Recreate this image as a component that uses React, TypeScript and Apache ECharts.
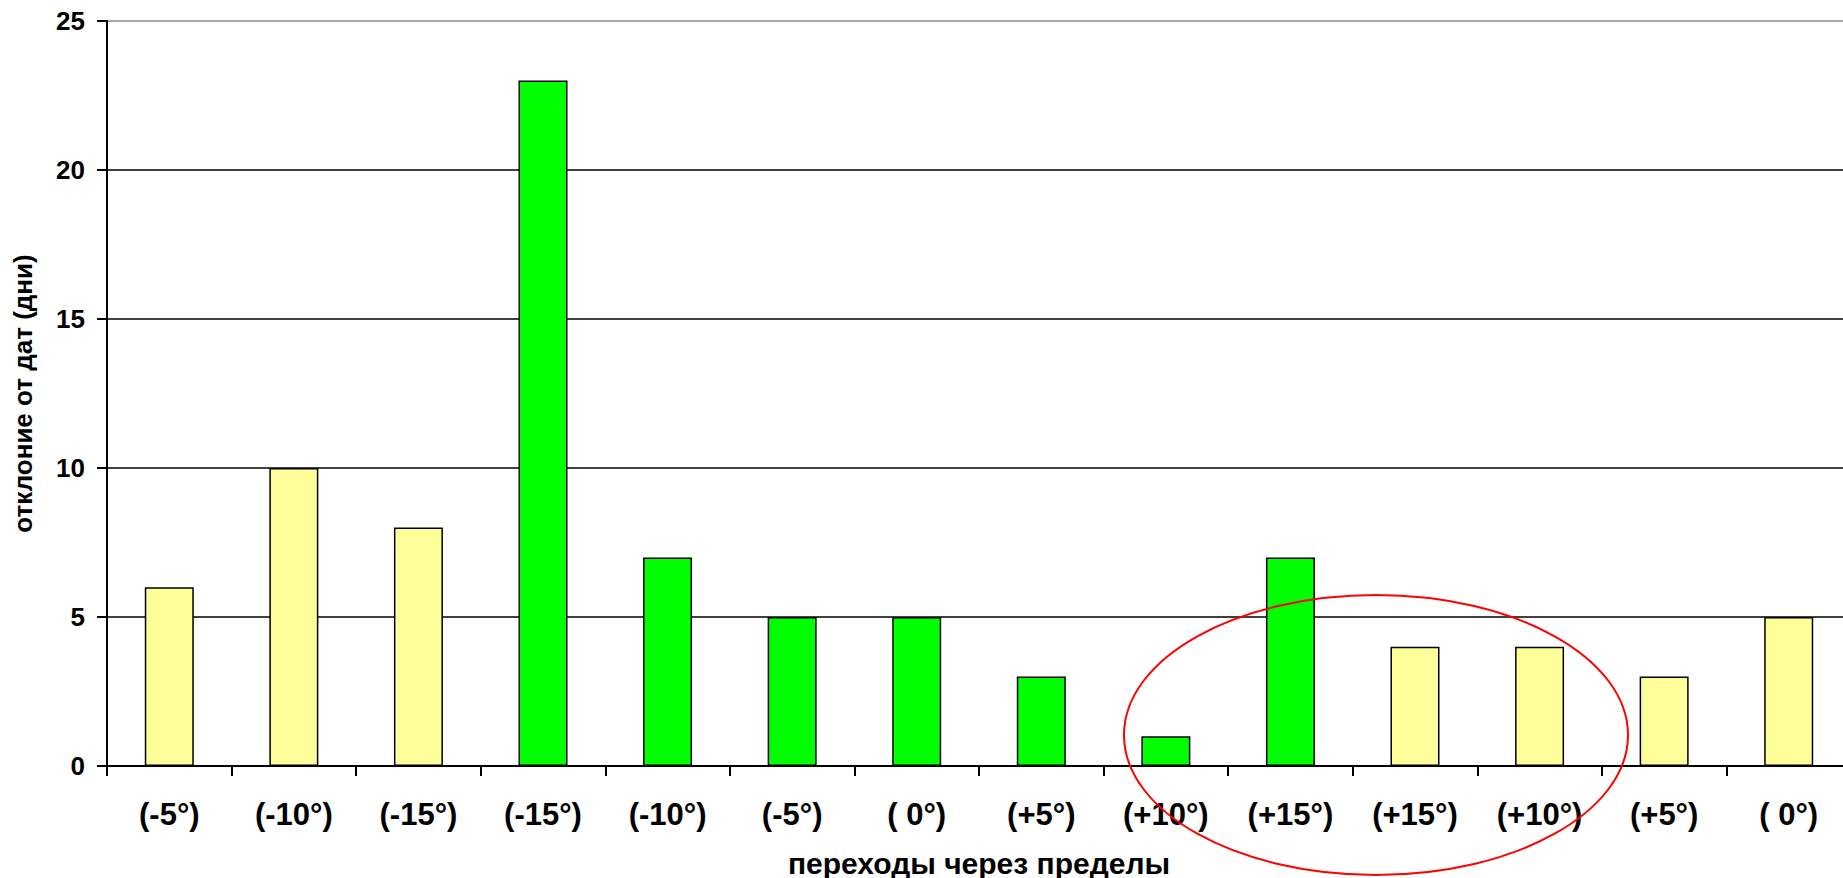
import React, { useEffect, useRef } from "react";
import * as echarts from "echarts";

// Temperature-limit crossings, in the order they occur through the season
const categories = [
  "(-5°)", "(-10°)", "(-15°)", "(-15°)", "(-10°)", "(-5°)", "( 0°)",
  "(+5°)", "(+10°)", "(+15°)", "(+15°)", "(+10°)", "(+5°)", "( 0°)",
];

// Deviation from the reference dates, in days
const deviationDays = [6, 10, 8, 23, 7, 5, 5, 3, 1, 7, 4, 4, 3, 5];

// Crossings that fall inside the highlighted (green) period
const inGreenPeriod = [
  false, false, false, true, true, true, true,
  true, true, true, false, false, false, false,
];

const yMin = 0;
const yMax = 25;
const yStep = 5;

const xTitle = "переходы через пределы";
const yTitle = "отклоние от дат (дни)";

const FONT = 'Arial, "Liberation Sans", sans-serif';
const YELLOW = "#FFFF99";
const GREEN = "#00FF00";

export default function App() {
  const ref = useRef<HTMLDivElement>(null);

  useEffect(() => {
    if (!ref.current) return;
    const chart = echarts.init(ref.current, undefined, { renderer: "svg" });

    chart.setOption({
      animation: false,
      backgroundColor: "#fff",
      grid: {
        left: 107,
        right: -8,
        top: 21,
        bottom: 112,
        // the plot runs slightly past the right edge; keep the grid where it is placed
        outerBoundsMode: "none",
        containLabel: false,
      },
      xAxis: {
        type: "category",
        data: categories,
        boundaryGap: true,
        name: xTitle,
        nameLocation: "middle",
        nameGap: 82,
        nameTextStyle: {
          fontFamily: FONT,
          fontSize: 30,
          fontWeight: "bold",
          color: "#000",
        },
        axisLine: { lineStyle: { color: "#000", width: 2 } },
        axisTick: {
          show: true,
          alignWithLabel: false,
          length: 10,
          lineStyle: { color: "#000", width: 2 },
        },
        axisLabel: {
          interval: 0,
          margin: 33,
          fontFamily: FONT,
          fontSize: 31,
          fontWeight: "bold",
          color: "#000",
        },
        splitLine: { show: false },
      },
      yAxis: {
        type: "value",
        min: yMin,
        max: yMax,
        interval: yStep,
        name: yTitle,
        nameLocation: "middle",
        nameGap: 71,
        nameRotate: 90,
        nameTextStyle: {
          fontFamily: FONT,
          fontSize: 26,
          fontWeight: "bold",
          color: "#000",
        },
        axisLine: { show: true, lineStyle: { color: "#000", width: 2 } },
        axisTick: {
          show: true,
          length: 10,
          lineStyle: { color: "#000", width: 2 },
        },
        axisLabel: {
          margin: 22,
          fontFamily: FONT,
          fontSize: 26,
          fontWeight: "bold",
          color: "#000",
        },
        splitLine: {
          show: true,
          lineStyle: {
            color: ["#000", "#000", "#000", "#000", "#000", "#888"],
            width: 1.5,
          },
        },
      },
      series: [
        {
          type: "bar",
          barWidth: 49,
          silent: true,
          data: deviationDays.map((v, i) => ({
            value: v,
            itemStyle: {
              color: inGreenPeriod[i] ? GREEN : YELLOW,
              borderColor: "#000",
              borderWidth: 1.5,
            },
          })),
        },
      ],
      graphic: [
        {
          type: "ellipse",
          silent: true,
          z: 100,
          shape: { cx: 1376, cy: 735, rx: 252, ry: 140 },
          style: { fill: "none", stroke: "#FF0000", lineWidth: 2 },
        },
      ],
    });

    return () => {
      chart.dispose();
    };
  }, []);

  return (
    <div
      ref={ref}
      style={{ position: "fixed", left: 0, top: 0, width: 1843, height: 878, overflow: "hidden" }}
    />
  );
}
